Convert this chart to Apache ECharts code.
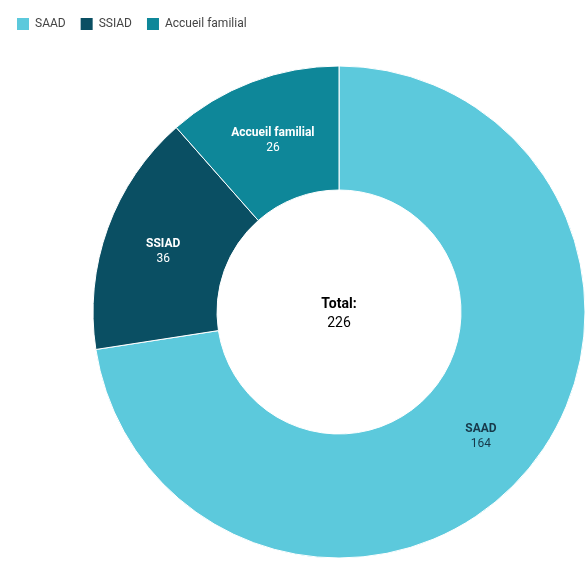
<!DOCTYPE html>
<html>
<head>
<meta charset="utf-8">
<script src="https://cdn.jsdelivr.net/npm/echarts@6/dist/echarts.min.js"></script>
<style>
  html, body { margin: 0; padding: 0; background: #ffffff; }
  #chart { width: 587px; height: 561px; }
</style>
</head>
<body>
<div id="chart"></div>
<script>
// Services and their counts
const categories = ['SAAD', 'SSIAD', 'Accueil familial'];
const values = [164, 36, 26];
const colors = ['#5cc9dc', '#0a4f63', '#0e8799'];
const labelColors = ['#17394a', '#ffffff', '#ffffff'];

const total = values.reduce((a, b) => a + b, 0);

const chart = echarts.init(document.getElementById('chart'));
chart.setOption({
  animation: false,
  textStyle: { fontFamily: 'Roboto' },
  legend: {
    left: 10,
    top: 11,
    itemWidth: 14,
    itemHeight: 14,
    itemGap: 13,
    icon: 'rect',
    textStyle: { fontSize: 12, color: '#444', fontFamily: 'Roboto' },
    data: categories
  },
  graphic: [{
    type: 'text',
    x: 339,
    y: 314,
    style: {
      text: '{b|Total:}\n{v|' + total + '}',
      align: 'center',
      verticalAlign: 'middle',
      rich: {
        b: { fontSize: 14, fontWeight: 'bold', color: '#222', fontFamily: 'Roboto', lineHeight: 19, align: 'center' },
        v: { fontSize: 14, color: '#333', fontFamily: 'Roboto', lineHeight: 19, align: 'center' }
      }
    }
  }],
  series: [{
    type: 'pie',
    center: [339, 312],
    radius: [122, 246],
    startAngle: 90,
    clockwise: true,
    avoidLabelOverlap: false,
    itemStyle: { borderColor: '#ffffff', borderWidth: 1 },
    label: {
      show: true,
      position: 'inside',
      formatter: '{n|{b}}\n{v|{c}}'
    },
    labelLine: { show: false },
    data: categories.map((name, i) => ({
      name: name,
      value: values[i],
      itemStyle: { color: colors[i] },
      label: {
        offset: [0, 3],
        rich: {
          n: { fontSize: 12, fontWeight: 'bold', color: labelColors[i], fontFamily: 'Roboto', lineHeight: 15, align: 'center' },
          v: { fontSize: 12, color: labelColors[i], fontFamily: 'Roboto', lineHeight: 15, align: 'center' }
        }
      }
    }))
  }]
});
</script>
</body>
</html>
